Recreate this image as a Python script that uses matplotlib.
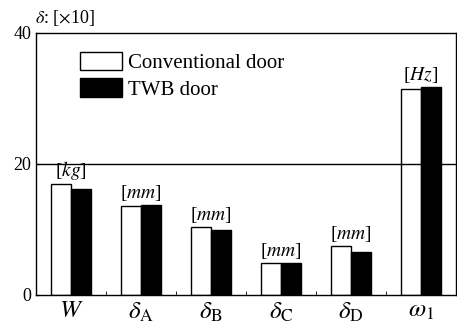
import numpy as np
import matplotlib.pyplot as plt

plt.rcParams['font.family'] = ['Liberation Serif', 'DejaVu Serif']
plt.rcParams['mathtext.fontset'] = 'stix'

categories = [r'$W$', r'$\delta_{\rm A}$', r'$\delta_{\rm B}$', r'$\delta_{\rm C}$',
              r'$\delta_{\rm D}$', r'$\omega_1$']
units = [r'[$kg$]', r'[$mm$]', r'[$mm$]', r'[$mm$]', r'[$mm$]', r'[$Hz$]']
conventional = [16.9, 13.5, 10.3, 4.8, 7.4, 31.4]
twb = [16.1, 13.7, 9.9, 4.8, 6.5, 31.7]

fig = plt.figure(figsize=(4.57, 3.23), dpi=100)
ax = fig.add_axes([0.079, 0.087, 0.918, 0.811])

x = np.arange(len(categories))
w = 0.285
b1 = ax.bar(x - w / 2, conventional, w, color='white', edgecolor='black',
            linewidth=1.0, label='Conventional door')
b2 = ax.bar(x + w / 2, twb, w, color='black', edgecolor='black',
            linewidth=1.0, label='TWB door')

for i in range(len(categories)):
    top = max(conventional[i], twb[i])
    ax.text(x[i], top + 0.3, units[i], ha='center', va='bottom', fontsize=14)

ax.axhline(20, color='black', linewidth=1.0)

ax.set_xlim(-0.5, 5.5)
ax.set_ylim(0, 40)
ax.set_yticks([0, 20, 40])
ax.set_xticks(x)
ax.set_xticklabels(categories, fontsize=18)
ax.set_xticks(x[:-1] + 0.5, minor=True)
ax.tick_params(axis='x', which='major', length=0, pad=4)
ax.tick_params(axis='x', which='minor', length=3, direction='in')
ax.tick_params(axis='y', labelsize=13, length=3, direction='in')
for s in ax.spines.values():
    s.set_linewidth(1.0)

fig.text(0.076, 0.912, r'$\delta$: [$\times$10]', fontsize=13, va='bottom')

ax.legend(handles=[b1, b2], loc='upper left', bbox_to_anchor=(0.085, 0.96),
          frameon=False, fontsize=15, handlelength=2.0, handleheight=1.0,
          handletextpad=0.3, labelspacing=0.25, borderaxespad=0)

fig.savefig('out.png', dpi=100)
